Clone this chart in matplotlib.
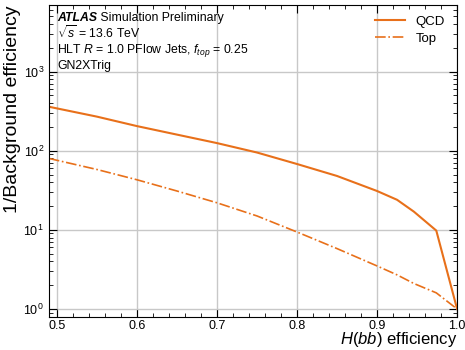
import numpy as np
import matplotlib
matplotlib.use('Agg')
import matplotlib.pyplot as plt
from matplotlib.ticker import AutoMinorLocator, LogLocator, NullFormatter

plt.rcParams['font.family'] = ['Liberation Sans', 'DejaVu Sans']
plt.rcParams['mathtext.fontset'] = 'custom'
plt.rcParams['mathtext.rm'] = 'Liberation Sans'
plt.rcParams['mathtext.it'] = 'Liberation Sans:italic'
plt.rcParams['mathtext.bf'] = 'Liberation Sans:bold'

# signal efficiency and 1/background efficiency
sig_eff = [0.49, 0.55, 0.6, 0.65, 0.7, 0.75, 0.8, 0.85, 0.9, 0.925, 0.946, 0.974, 1.0]
qcd_rej = [360, 270, 205, 160, 125, 95, 68, 48, 31, 24, 17, 9.8, 1.0]
top_rej = [80, 58, 43, 31, 22, 15, 9.4, 5.8, 3.5, 2.7, 2.1, 1.6, 1.0]

color = '#e8701a'

fig, ax = plt.subplots(figsize=(4.65, 3.5), dpi=100)
fig.subplots_adjust(left=0.105, right=0.983, top=0.985, bottom=0.094)

ax.plot(sig_eff, qcd_rej, '-', color=color, lw=1.5, label='QCD')
ax.plot(sig_eff, top_rej, '-.', color=color, lw=1.2, label='Top')

ax.set_yscale('log')
ax.set_xlim(0.49, 1.0)
ax.set_ylim(0.79, 6900)
ax.grid(True, which='major', color='#c8c8c8', lw=1)

ax.xaxis.set_minor_locator(AutoMinorLocator(5))
ax.yaxis.set_minor_locator(LogLocator(base=10, subs=np.arange(2, 10)))
ax.yaxis.set_minor_formatter(NullFormatter())
ax.tick_params(which='both', direction='in', top=True, right=True, labelsize=9)
ax.tick_params(axis='x', pad=2)
ax.tick_params(which='major', length=6)
ax.tick_params(which='minor', length=3)

ax.set_xlabel('$H(bb)$ efficiency', fontsize=12, loc='right', labelpad=-1)
ax.set_ylabel('1/Background efficiency', fontsize=14, loc='top', labelpad=2)

fs = 8.8
atlas = ax.text(0.02, 0.95, 'ATLAS', transform=ax.transAxes, fontsize=fs,
                fontweight='bold', fontstyle='italic', va='baseline')
ax.annotate(' Simulation Preliminary', xy=(1, 0), xycoords=atlas,
            fontsize=fs, va='bottom')
ax.text(0.02, 0.895, r'$\sqrt{s}$ = 13.6 TeV', transform=ax.transAxes,
        fontsize=fs, va='baseline')
ax.text(0.02, 0.848, r'HLT $R$ = 1.0 PFlow Jets, $f_{top}$ = 0.25',
        transform=ax.transAxes, fontsize=fs, va='baseline')
ax.text(0.02, 0.797, 'GN2XTrig', transform=ax.transAxes, fontsize=fs, va='baseline')

ax.legend(loc='upper right', frameon=False, fontsize=9.5, labelspacing=0.35,
          handlelength=2.3, bbox_to_anchor=(1.0, 1.005))

fig.savefig('out.png', dpi=100)
